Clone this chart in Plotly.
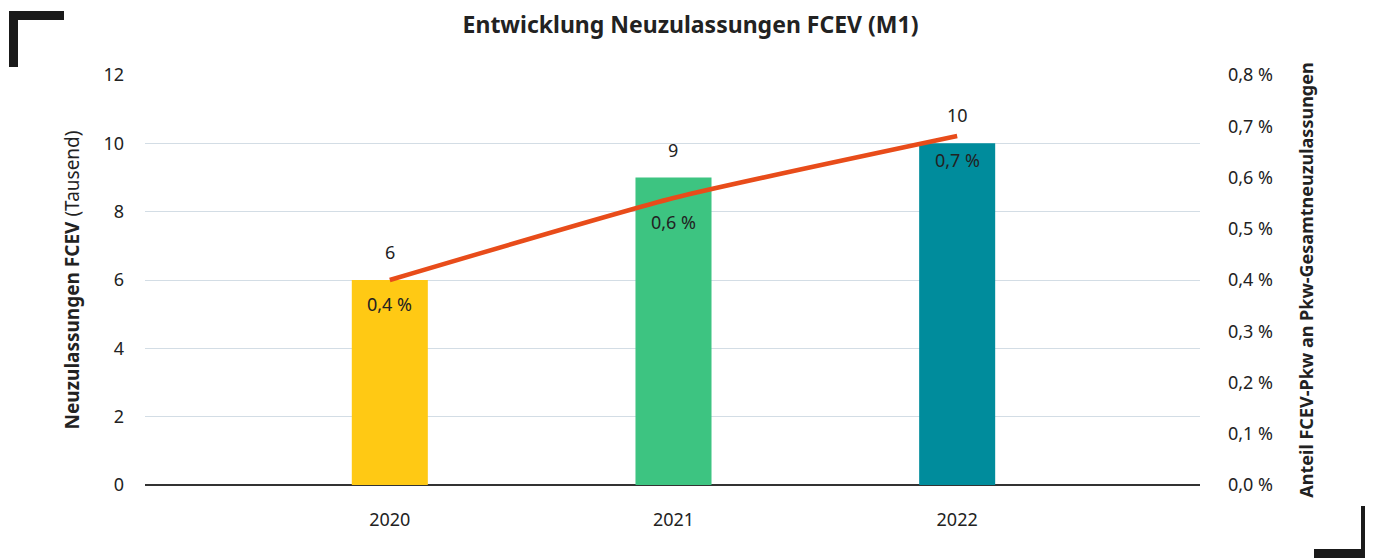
import plotly.graph_objects as go

# data
jahre = ["2020", "2021", "2022"]
neuzulassungen = [6, 9, 10]          # Tausend
anteil = [0.40, 0.56, 0.681]         # Prozent
anteil_labels = ["0,4 %", "0,6 %", "0,7 %"]
bar_colors = ["#FFC914", "#3DC481", "#008C9C"]

# page has an 8px body margin, so the figure is drawn 8px smaller/shifted
OFF = 8
W, H = 1373 - OFF, 558 - OFF
L, R, T, B = 145 - OFF, 173, 75 - OFF, 73
FONT = "Source Sans Pro, Noto Sans, sans-serif"


def px(x):
    return (x - OFF - L) / (W - L - R)


def py(y):
    return (H - B - (y - OFF)) / (H - T - B)


fig = go.Figure()

fig.add_trace(go.Bar(
    x=jahre, y=neuzulassungen,
    marker=dict(color=bar_colors, line=dict(width=0)),
    width=0.268,
    hoverinfo="skip",
))

fig.add_trace(go.Scatter(
    x=jahre, y=anteil, yaxis="y2",
    mode="lines",
    line=dict(color="#E84C1A", width=4.5, shape="spline", smoothing=0.5),
    hoverinfo="skip",
))

# bar value labels (category index positions)
for i, v in enumerate(neuzulassungen):
    fig.add_annotation(x=i, y=v, text=str(v), showarrow=False, yshift=28,
                       font=dict(size=18, color="#222"))

# share labels below line points
for i, (v, t) in enumerate(zip(anteil, anteil_labels)):
    fig.add_annotation(x=i, y=v, yref="y2", text=t, showarrow=False, yshift=-24,
                       font=dict(size=18, color="#222"))

# corner brackets
bk = "#1a1a1a"
for x0, x1, y0, y1 in [(9, 64, 11, 20), (9, 18, 11, 67),
                       (1361, 1370, 506, 570), (1314, 1370, 549, 570)]:
    fig.add_shape(type="rect", xref="paper", yref="paper",
                  x0=px(x0), x1=px(x1), y0=py(y0), y1=py(y1),
                  fillcolor=bk, line=dict(width=0), layer="above")

fig.update_layout(
    width=W, height=H,
    margin=dict(l=L, r=R, t=T, b=B),
    paper_bgcolor="white", plot_bgcolor="white",
    font=dict(family=FONT, size=18, color="#222"),
    separators=",.",
    showlegend=False,
    hovermode=False,
    title=dict(text="<b>Entwicklung Neuzulassungen FCEV (M1)</b>",
               x=0.5, xref="container", xanchor="center",
               y=1 - (25 - OFF) / H, yanchor="middle",
               font=dict(size=23, color="#222")),
    xaxis=dict(type="category", range=[-0.863, 2.856], showgrid=False,
               showline=False, ticks="", tickfont=dict(size=18),
               ticklabelstandoff=22),
    yaxis=dict(range=[0, 12], dtick=2, showgrid=True, gridcolor="#D3DDE5",
               gridwidth=1, zeroline=True, zerolinecolor="#333", zerolinewidth=1.5,
               showline=False, ticks="", ticklabelstandoff=20,
               tickfont=dict(size=18),
               title=dict(text="<b>Neuzulassungen FCEV</b> (Tausend)",
                          font=dict(size=19), standoff=18)),
    yaxis2=dict(overlaying="y", side="right", range=[0, 0.8], dtick=0.1,
                tickformat=".1f", ticksuffix=" %", showgrid=False,
                zeroline=False, showline=False, ticks="", ticklabelstandoff=27,
                tickfont=dict(size=18),
                title=dict(text="<b>Anteil FCEV-Pkw an Pkw-Gesamtneuzulassungen</b>",
                           font=dict(size=18), standoff=28)),
)

fig.write_html("out.html")
